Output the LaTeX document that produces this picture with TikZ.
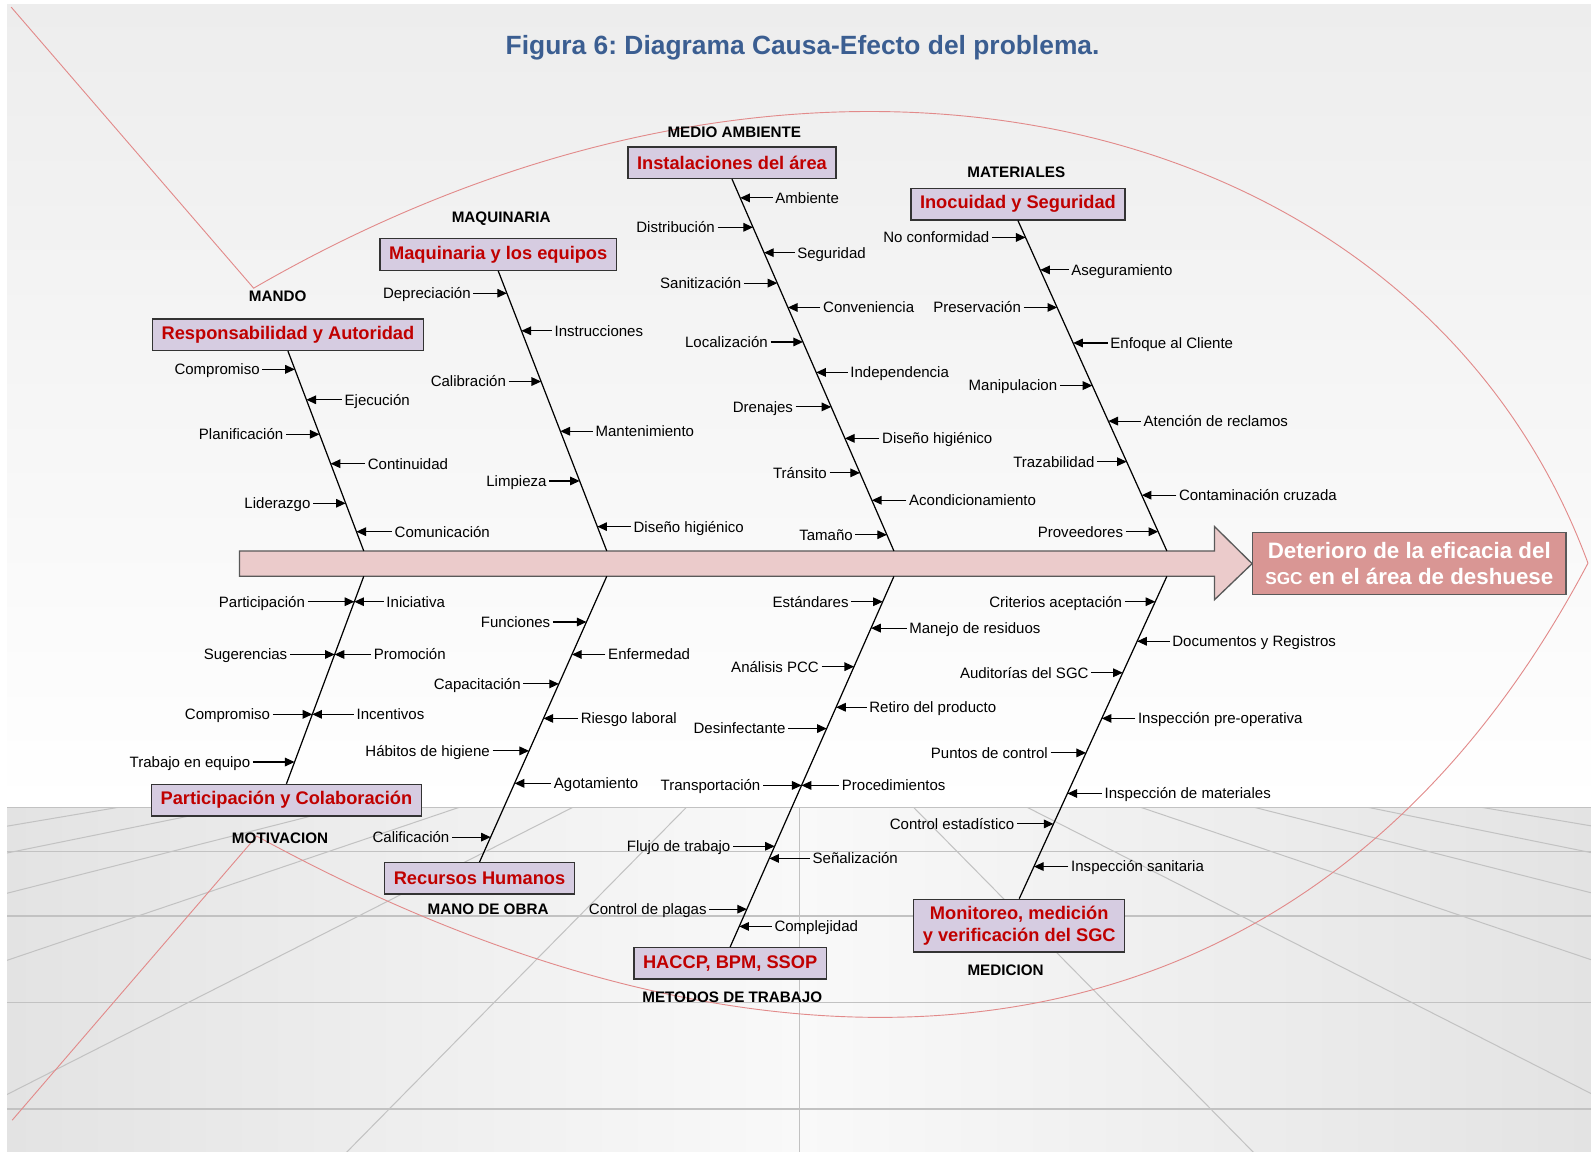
\documentclass[tikz,border=0pt]{standalone}
\usepackage{fontspec}
\setmainfont{Liberation Sans}
\usetikzlibrary{calc,arrows.meta}
\frenchspacing

\definecolor{azultitulo}{HTML}{3B5E91}
\definecolor{lila}{HTML}{D6CCE1}
\definecolor{rojocaja}{HTML}{C00000}
\definecolor{rosaespina}{HTML}{EBCBCB}
\definecolor{rosaefecto}{HTML}{D99694}
\definecolor{rojopez}{HTML}{E28A8A}
\definecolor{pared}{HTML}{EDEDED}
\definecolor{sueloborde}{HTML}{E3E3E3}
\definecolor{suelocentro}{HTML}{F9F9F9}
\definecolor{lineasuelo}{HTML}{C2C2C2}

\tikzset{
	causa/.style={font=\fontsize{14.8}{17}\selectfont, inner xsep=2.5pt, inner ysep=0pt,
		text height=10.6pt, text depth=0pt},
	flecha/.style={-{Triangle[length=9.5pt,width=8.5pt]}, line width=1.1pt},
	hueso/.style={line width=1.2pt},
	caja/.style={draw=black!80, line width=1.3pt, fill=lila, text=rojocaja,
		font=\bfseries\fontsize{18}{21.5}\selectfont, inner xsep=9pt,
		minimum height=31pt, align=center},
	grupo/.style={font=\bfseries\fontsize{15}{18}\selectfont, text height=10.7pt, text depth=0pt},
	pez/.style={draw=rojopez, line width=0.9pt},
	suelo/.style={draw=lineasuelo, line width=1pt}
}

% causa que llega a la espina #2 desde la izquierda / derecha, a la altura #3
\newcommand{\causaizq}[4][32]{%
	\coordinate (#2p#3) at (intersection of #2a--#2b and 0,#3--1,#3);
	\node[causa, anchor=east] (#2i#3) at ([xshift=-#1pt]#2p#3) {#4};
	\draw[flecha] (#2i#3) -- (#2p#3);}
\newcommand{\causader}[4][32]{%
	\coordinate (#2p#3) at (intersection of #2a--#2b and 0,#3--1,#3);
	\node[causa, anchor=west] (#2d#3) at ([xshift=#1pt]#2p#3) {#4};
	\draw[flecha] (#2d#3) -- (#2p#3);}

\begin{document}
\begin{tikzpicture}[x=1pt, y=-1pt]
	\useasboundingbox (0,0) rectangle (1568,1135);
	\fill[white] (0,0) rectangle (1568,1135);
	% fondo: pared y suelo
	\fill[top color=pared, bottom color=white] (7,4) rectangle (1568,796);
	\fill[left color=sueloborde, right color=sueloborde, middle color=suelocentro] (7,796) rectangle (1568,1135);
	\coordinate (fuga) at (788.4,682);
	\begin{scope}
		\clip (7,796) rectangle (1568,1135);
		\foreach \k in {-7,...,7}
			\draw[suelo] (fuga) -- ($(fuga)!6!({788.4+(\k)*112.3},796)$);
		\foreach \h in {796,839,903,988,1093}
			\draw[suelo, line width=1.6pt] (7,\h) -- (1568,\h);
	\end{scope}
	% contorno del pez
	\draw[pez] (11,7) -- (250,284) .. controls (808,-39) and (1400,108) .. (1565,555)
		.. controls (1289,1078) and (772,1108) .. (253,824) -- (12,1104);

	\node[font=\bfseries\fontsize{26}{30}\selectfont, text=azultitulo, anchor=base] (titulo) at (791,54)
		{Figura 6: Diagrama Causa-Efecto del problema.};

	% espina central y efecto
	\draw[fill=rosaespina, draw=black!65, line width=1.3pt] (236,543) -- (1197,543) -- (1197,519)
		-- (1234,555.5) -- (1197,591) -- (1197,568) -- (236,568) -- cycle;
	\node[draw=black!65, line width=1.3pt, fill=rosaefecto, text=white,
		font=\bfseries\fontsize{22}{26.5}\selectfont, minimum width=309pt, minimum height=61pt,
		align=center, inner sep=2pt] (efecto) at (1388.9,555.4)
		{Deterioro de la eficacia del\\{\fontsize{17}{20}\selectfont SGC} en el área de deshuese};

	% cajas de categorias
	\node[caja] (mando) at (283.8,329.9) {Responsabilidad y Autoridad};
	\node[caja] (maq) at (491,250.8) {Maquinaria y los equipos};
	\node[caja] (medio) at (721.4,160.3) {Instalaciones del área};
	\node[caja] (mat) at (1003.2,201.2) {Inocuidad y Seguridad};
	\node[caja] (motiv) at (282.3,788.6) {Participación y Colaboración};
	\node[caja] (mano) at (472.6,865.7) {Recursos Humanos};
	\node[caja] (met) at (719.6,949.4) {HACCP, BPM, SSOP};
	\node[caja, minimum height=52pt] (medic) at (1004.5,912.3) {Monitoreo, medición\\y verificación del SGC};

	\node[grupo] (gmando) at (273.7,291.7) {MANDO};
	\node[grupo] (gmaq) at (494,213.6) {MAQUINARIA};
	\node[grupo] (gmedio) at (723.7,129.8) {MEDIO AMBIENTE};
	\node[grupo] (gmat) at (1001.6,169.2) {MATERIALES};
	\node[grupo] (gmotiv) at (276,825.6) {MOTIVACION};
	\node[grupo] (gmano) at (481,896.2) {MANO DE OBRA};
	\node[grupo] (gmet) at (721.7,982.9) {METODOS DE TRABAJO};
	\node[grupo] (gmedic) at (991,956) {MEDICION};

	% espinas
	\coordinate (mandoa) at (mando.south);  \coordinate (mandob) at (358.5,543);
	\coordinate (maqa) at (maq.south);      \coordinate (maqb) at (598,543);
	\coordinate (medioa) at (medio.south);  \coordinate (mediob) at (881,543);
	\coordinate (mata) at (mat.south);      \coordinate (matb) at (1150,543);
	\coordinate (motiva) at (358.5,568);    \coordinate (motivb) at (motiv.north);
	\coordinate (manoa) at (598,568);       \coordinate (manob) at (mano.north);
	\coordinate (meta) at (881,568);        \coordinate (metb) at (met.north);
	\coordinate (medica) at (1150,568);     \coordinate (medicb) at (medic.north);
	\foreach \e in {mando,maq,medio,mat,motiv,mano,met,medic}
		\draw[hueso] (\e a) -- (\e b);

	% MANDO
	\causaizq{mando}{364}{Compromiso}
	\causader[35]{mando}{394}{Ejecución}
	\causaizq[33]{mando}{428}{Planificación}
	\causader[34]{mando}{457}{Continuidad}
	\causaizq{mando}{496}{Liderazgo}
	\causader[35]{mando}{524}{Comunicación}
	% MAQUINARIA
	\causaizq[33]{maq}{289}{Depreciación}
	\causader[30]{maq}{326}{Instrucciones}
	\causaizq{maq}{376}{Calibración}
	\causader{maq}{425}{Mantenimiento}
	\causaizq[30]{maq}{474}{Limpieza}
	\causader[33]{maq}{519}{Diseño higiénico}
	% MEDIO AMBIENTE
	\causader{medio}{195}{Ambiente}
	\causaizq[35]{medio}{224}{Distribución}
	\causader[30]{medio}{249}{Seguridad}
	\causaizq[33]{medio}{279}{Sanitización}
	\causader{medio}{303}{Conveniencia}
	\causaizq{medio}{337}{Localización}
	\causader[31]{medio}{367}{Independencia}
	\causaizq[35]{medio}{401}{Drenajes}
	\causader[34]{medio}{432}{Diseño higiénico}
	\causaizq[30]{medio}{466}{Tránsito}
	\causader[34]{medio}{493}{Acondicionamiento}
	\causaizq[31]{medio}{527}{Tamaño}
	% MATERIALES
	\causaizq[33]{mat}{234}{No conformidad}
	\causader[28]{mat}{266}{Aseguramiento}
	\causaizq[33]{mat}{303}{Preservación}
	\causader[34]{mat}{338}{Enfoque al Cliente}
	\causaizq{mat}{380}{Manipulacion}
	\causader{mat}{415}{Atención de reclamos}
	\causaizq[29]{mat}{455}{Trazabilidad}
	\causader[34]{mat}{488}{Contaminación cruzada}
	\causaizq{mat}{524}{Proveedores}
	% MOTIVACION
	\causaizq[46]{motiv}{593}{Participación}
	\causader[29]{motiv}{593}{Iniciativa}
	\causaizq[44]{motiv}{645}{Sugerencias}
	\causader[36]{motiv}{645}{Promoción}
	\causaizq[39]{motiv}{704}{Compromiso}
	\causader[41]{motiv}{704}{Incentivos}
	\causaizq[41]{motiv}{751}{Trabajo en equipo}
	% MANO DE OBRA
	\causaizq[33]{mano}{613}{Funciones}
	\causader[33]{mano}{645}{Enfermedad}
	\causaizq[35]{mano}{674}{Capacitación}
	\causader[34]{mano}{708}{Riesgo laboral}
	\causaizq[36]{mano}{740}{Hábitos de higiene}
	\causader[36]{mano}{772}{Agotamiento}
	\causaizq[38]{mano}{825}{Calificación}
	% METODOS DE TRABAJO
	\causaizq[31]{met}{593}{Estándares}
	\causader[35]{met}{619}{Manejo de residuos}
	\causaizq{met}{657}{Análisis PCC}
	\causader[30]{met}{697}{Retiro del producto}
	\causaizq[38]{met}{718}{Desinfectante}
	\causaizq[38]{met}{774}{Transportación}
	\causader[37]{met}{774}{Procedimientos}
	\causaizq[41]{met}{834}{Flujo de trabajo}
	\causader[40]{met}{846}{Señalización}
	\causaizq[37]{met}{896}{Control de plagas}
	\causader{met}{913}{Complejidad}
	% MEDICION
	\causaizq[30]{medic}{593}{Criterios aceptación}
	\causader{medic}{632}{Documentos y Registros}
	\causaizq[31]{medic}{663}{Auditorías del SGC}
	\causader[33]{medic}{708}{Inspección pre-operativa}
	\causaizq[35]{medic}{742}{Puntos de control}
	\causader[34]{medic}{782}{Inspección de materiales}
	\causaizq[36]{medic}{812}{Control estadístico}
	\causader[34]{medic}{854}{Inspección sanitaria}
\end{tikzpicture}
\end{document}
